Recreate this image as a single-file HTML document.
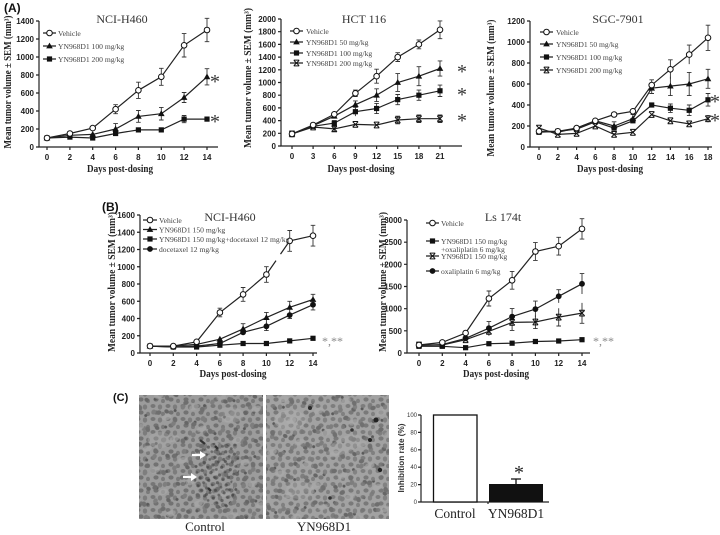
<!DOCTYPE html>
<html><head><meta charset="utf-8"><style>
html,body{margin:0;padding:0;background:#fff;}
svg{display:block;}
.tk{font-family:"Liberation Sans",sans-serif;font-weight:bold;font-size:8px;fill:#222;}
.ax{font-family:"Liberation Serif",serif;font-weight:bold;font-size:10px;fill:#222;}
.tt{font-family:"Liberation Serif",serif;font-size:12px;fill:#333;}
.lg{font-family:"Liberation Serif",serif;font-size:7.6px;fill:#444;}
.st{font-family:"Liberation Serif",serif;font-size:20px;fill:#333;}
.st2{font-family:"Liberation Serif",serif;font-size:12px;fill:#888;}
.pl{font-family:"Liberation Sans",sans-serif;font-weight:bold;font-size:12px;fill:#111;}
.ln{stroke:#222;stroke-width:1.2;fill:none;}
.eb{stroke:#333;stroke-width:0.9;fill:none;}
</style></head><body>
<svg width="720" height="535" viewBox="0 0 720 535" xmlns="http://www.w3.org/2000/svg">
<defs>
<circle id="oc" r="2.8" fill="#fff" stroke="#111" stroke-width="1"/>
<path id="tri" d="M0,-3.4 L3.3,2.4 L-3.3,2.4Z" fill="#111"/>
<rect id="sq" x="-2.6" y="-2.6" width="5.2" height="5.2" fill="#111"/>
<path id="xm" d="M-2.7,-2.7L2.7,2.7M2.7,-2.7L-2.7,2.7M-2.7,-2.9H2.7M-2.7,2.9H2.7" stroke="#111" stroke-width="1" fill="none"/>
<circle id="fc" r="2.9" fill="#111"/>
<pattern id="cellsA" width="15" height="13" patternUnits="userSpaceOnUse">
<ellipse cx="3" cy="3" rx="2.5" ry="2" fill="#767676"/>
<ellipse cx="10" cy="4" rx="2.2" ry="2.6" fill="#7c7c7c"/>
<ellipse cx="6" cy="9.5" rx="2.6" ry="2.1" fill="#727272"/>
<ellipse cx="13" cy="11" rx="2" ry="2.3" fill="#7a7a7a"/>
</pattern>
<pattern id="cellsB" width="23" height="19" patternUnits="userSpaceOnUse" patternTransform="rotate(30)">
<ellipse cx="5" cy="7" rx="2.4" ry="2" fill="#666"/>
<ellipse cx="17" cy="14" rx="2.2" ry="2.6" fill="#7e7e7e"/>
<circle cx="12" cy="2" r="1.5" fill="#5a5a5a"/>
</pattern>
<pattern id="cellsC" width="29" height="23" patternUnits="userSpaceOnUse" patternTransform="rotate(-20)">
<ellipse cx="8" cy="5" rx="2.8" ry="2.2" fill="#6e6e6e"/>
<ellipse cx="21" cy="17" rx="2.3" ry="2.8" fill="#707070"/>
<ellipse cx="14" cy="12" rx="5" ry="3" fill="#aaa" opacity="0.6"/>
</pattern>
<pattern id="dark" width="9" height="8" patternUnits="userSpaceOnUse" patternTransform="rotate(15)">
<circle cx="2" cy="2" r="1.6" fill="#333"/>
<circle cx="6.5" cy="5.5" r="1.4" fill="#3a3a3a"/>
</pattern>
</defs>

<!-- ============ PANEL A1 ============ -->
<text class="pl" x="4" y="12">(A)</text>
<text class="tt" x="122" y="23" text-anchor="middle">NCI-H460</text>
<path class="ln" d="M39,21V147H218"/>
<path class="ln" d="M36,147H39M36,129H39M36,111H39M36,93H39M36,75H39M36,57H39M36,39H39M36,21H39"/>
<g class="tk" text-anchor="end">
<text x="34" y="150">0</text><text x="34" y="132">200</text><text x="34" y="114">400</text><text x="34" y="96">600</text><text x="34" y="78">800</text><text x="34" y="60">1000</text><text x="34" y="42">1200</text><text x="34" y="24">1400</text>
</g>
<path class="ln" d="M47,147v3M69.9,147v3M92.7,147v3M115.6,147v3M138.4,147v3M161.3,147v3M184.1,147v3M207,147v3"/>
<g class="tk" text-anchor="middle">
<text x="47" y="160">0</text><text x="69.9" y="160">2</text><text x="92.7" y="160">4</text><text x="115.6" y="160">6</text><text x="138.4" y="160">8</text><text x="161.3" y="160">10</text><text x="184.1" y="160">12</text><text x="207" y="160">14</text>
</g>
<text class="ax" x="120" y="172" text-anchor="middle" textLength="66" lengthAdjust="spacingAndGlyphs">Days post-dosing</text>
<text class="ax" transform="translate(11,82) rotate(-90)" text-anchor="middle" textLength="133" lengthAdjust="spacingAndGlyphs">Mean tumor volume ± SEM (mm³)</text>
<path class="eb" d="M115.6,104.7V113.7M113.3,104.7H117.9M113.3,113.7H117.9M138.4,82.2V98.4M136.1,82.2H140.7M136.1,98.4H140.7M161.3,68.3V85.3M159,68.3H163.6M159,85.3H163.6M184.1,33.6V57M181.8,33.6H186.4M181.8,57H186.4M207,18.3V41.7M204.7,18.3H209.3M204.7,41.7H209.3"/>
<path class="eb" d="M115.6,123.6V134.4M113.3,123.6H117.9M138.4,110.5V122.3M136.1,110.5H140.7M136.1,122.3H140.7M161.3,107.4V120M159,107.4H163.6M159,120H163.6M184.1,92.5V102.5M181.8,92.5H186.4M181.8,102.5H186.4M207,68.7V84.9M204.7,68.7H209.3M204.7,84.9H209.3M184.1,115.5V122.7M181.8,115.5H186.4M181.8,122.7H186.4"/>
<polyline class="ln" points="47,138 69.9,137.1 92.7,138 115.6,133.5 138.4,129.9 161.3,129.9 184.1,119.1 207,119.1"/>
<polyline class="ln" points="47,138 69.9,135.3 92.7,134.4 115.6,129 138.4,116.4 161.3,113.7 184.1,97.5 207,76.8"/>
<polyline class="ln" points="47,138 69.9,133.5 92.7,128.1 115.6,109.2 138.4,90.3 161.3,76.8 184.1,45.3 207,30"/>
<use href="#sq" x="47" y="138"/><use href="#sq" x="69.9" y="137.1"/><use href="#sq" x="92.7" y="138"/><use href="#sq" x="115.6" y="133.5"/><use href="#sq" x="138.4" y="129.9"/><use href="#sq" x="161.3" y="129.9"/><use href="#sq" x="184.1" y="119.1"/><use href="#sq" x="207" y="119.1"/>
<use href="#tri" x="47" y="138"/><use href="#tri" x="69.9" y="135.3"/><use href="#tri" x="92.7" y="134.4"/><use href="#tri" x="115.6" y="129"/><use href="#tri" x="138.4" y="116.4"/><use href="#tri" x="161.3" y="113.7"/><use href="#tri" x="184.1" y="97.5"/><use href="#tri" x="207" y="76.8"/>
<use href="#oc" x="47" y="138"/><use href="#oc" x="69.9" y="133.5"/><use href="#oc" x="92.7" y="128.1"/><use href="#oc" x="115.6" y="109.2"/><use href="#oc" x="138.4" y="90.3"/><use href="#oc" x="161.3" y="76.8"/><use href="#oc" x="184.1" y="45.3"/><use href="#oc" x="207" y="30"/>
<text class="st" x="215" y="88" text-anchor="middle">*</text>
<text class="st" x="215" y="128" text-anchor="middle">*</text>
<path class="ln" d="M43,33H56M43,46H56M43,59H56"/>
<use href="#oc" x="49.5" y="33"/><use href="#tri" x="49.5" y="46"/><use href="#sq" x="49.5" y="59"/>
<text class="lg" x="58" y="36">Vehicle</text>
<text class="lg" x="58" y="49">YN968D1 100 mg/kg</text>
<text class="lg" x="58" y="62">YN968D1 200 mg/kg</text>

<!-- ============ PANEL A2 ============ -->
<text class="tt" x="364" y="23" text-anchor="middle">HCT 116</text>
<path class="ln" d="M281,19V146H462"/>
<path class="ln" d="M278,146H281M278,133.3H281M278,120.6H281M278,107.9H281M278,95.2H281M278,82.5H281M278,69.8H281M278,57.1H281M278,44.4H281M278,31.7H281M278,19H281"/>
<g class="tk" text-anchor="end">
<text x="276" y="149">0</text><text x="276" y="136.3">200</text><text x="276" y="123.6">400</text><text x="276" y="110.9">600</text><text x="276" y="98.2">800</text><text x="276" y="85.5">1000</text><text x="276" y="72.8">1200</text><text x="276" y="60.1">1400</text><text x="276" y="47.4">1600</text><text x="276" y="34.7">1800</text><text x="276" y="22">2000</text>
</g>
<path class="ln" d="M292,146v3M313.1,146v3M334.3,146v3M355.4,146v3M376.6,146v3M397.7,146v3M418.9,146v3M440,146v3"/>
<g class="tk" text-anchor="middle">
<text x="292" y="159">0</text><text x="313.1" y="159">3</text><text x="334.3" y="159">6</text><text x="355.4" y="159">9</text><text x="376.6" y="159">12</text><text x="397.7" y="159">15</text><text x="418.9" y="159">18</text><text x="440" y="159">21</text>
</g>
<text class="ax" x="361" y="172" text-anchor="middle" textLength="67" lengthAdjust="spacingAndGlyphs">Days post-dosing</text>
<text class="ax" transform="translate(251,78) rotate(-90)" text-anchor="middle" textLength="140" lengthAdjust="spacingAndGlyphs">Mean tumor volume ± SEM (mm³)</text>
<path class="eb" d="M292,132V135.8M289.7,132H294.3M289.7,135.8H294.3M355.4,90.1V96.5M353.1,90.1H357.7M353.1,96.5H357.7M376.6,69.2V83.2M374.3,69.2H378.9M374.3,83.2H378.9M397.7,52.7V61.5M395.4,52.7H400M395.4,61.5H400M418.9,40V48.8M416.6,40H421.2M416.6,48.8H421.2M440,20.9V38.7M437.7,20.9H442.3M437.7,38.7H442.3"/>
<path class="eb" d="M355.4,100.9V108.5M353.1,100.9H357.7M376.6,88.8V101.6M374.3,88.8H378.9M374.3,101.6H378.9M397.7,73.6V91.4M395.4,73.6H400M395.4,91.4H400M418.9,66.7V85.7M416.6,66.7H421.2M416.6,85.7H421.2M440,60.9V76.1M437.7,60.9H442.3M437.7,76.1H442.3"/>
<path class="eb" d="M334.3,120.6V125.6M332,120.6H336.6M355.4,107.3V116.1M353.1,107.3H357.7M376.6,103.4V113.6M374.3,103.4H378.9M374.3,113.6H378.9M397.7,94.5V104.7M395.4,94.5H400M395.4,104.7H400M418.9,90.1V100.3M416.6,90.1H421.2M416.6,100.3H421.2M440,85.1V96.5M437.7,85.1H442.3M437.7,96.5H442.3"/>
<path class="eb" d="M334.3,126.4V131.4M332,126.4H336.6M332,131.4H336.6M397.7,116.2V123.8M395.4,116.2H400M395.4,123.8H400M418.9,114.9V122.5M416.6,114.9H421.2M416.6,122.5H421.2M440,114.9V122.5M437.7,114.9H442.3M437.7,122.5H442.3"/>
<polyline class="ln" points="292,133.9 313.1,127 334.3,128.9 355.4,124.4 376.6,125 397.7,120 418.9,118.7 440,118.7"/>
<polyline class="ln" points="292,133.9 313.1,126.3 334.3,123.1 355.4,111.7 376.6,108.5 397.7,99.6 418.9,95.2 440,90.8"/>
<polyline class="ln" points="292,133.9 313.1,125.7 334.3,116.2 355.4,104.7 376.6,95.2 397.7,82.5 418.9,76.2 440,68.5"/>
<polyline class="ln" points="292,133.9 313.1,125 334.3,114.3 355.4,93.3 376.6,76.2 397.7,57.1 418.9,44.4 440,29.8"/>
<use href="#xm" x="292" y="133.9"/><use href="#xm" x="313.1" y="127"/><use href="#xm" x="334.3" y="128.9"/><use href="#xm" x="355.4" y="124.4"/><use href="#xm" x="376.6" y="125"/><use href="#xm" x="397.7" y="120"/><use href="#xm" x="418.9" y="118.7"/><use href="#xm" x="440" y="118.7"/>
<use href="#sq" x="292" y="133.9"/><use href="#sq" x="313.1" y="126.3"/><use href="#sq" x="334.3" y="123.1"/><use href="#sq" x="355.4" y="111.7"/><use href="#sq" x="376.6" y="108.5"/><use href="#sq" x="397.7" y="99.6"/><use href="#sq" x="418.9" y="95.2"/><use href="#sq" x="440" y="90.8"/>
<use href="#tri" x="292" y="133.9"/><use href="#tri" x="313.1" y="125.7"/><use href="#tri" x="334.3" y="116.2"/><use href="#tri" x="355.4" y="104.7"/><use href="#tri" x="376.6" y="95.2"/><use href="#tri" x="397.7" y="82.5"/><use href="#tri" x="418.9" y="76.2"/><use href="#tri" x="440" y="68.5"/>
<use href="#oc" x="292" y="133.9"/><use href="#oc" x="313.1" y="125"/><use href="#oc" x="334.3" y="114.3"/><use href="#oc" x="355.4" y="93.3"/><use href="#oc" x="376.6" y="76.2"/><use href="#oc" x="397.7" y="57.1"/><use href="#oc" x="418.9" y="44.4"/><use href="#oc" x="440" y="29.8"/>
<text class="st" x="462" y="78" text-anchor="middle">*</text>
<text class="st" x="462" y="101" text-anchor="middle">*</text>
<text class="st" x="462" y="127" text-anchor="middle">*</text>
<path class="ln" d="M290,31H303M290,42H303M290,53H303M290,63H303"/>
<use href="#oc" x="296.5" y="31"/><use href="#tri" x="296.5" y="42"/><use href="#sq" x="296.5" y="53"/><use href="#xm" x="296.5" y="63"/>
<text class="lg" x="306" y="34">Vehicle</text>
<text class="lg" x="306" y="45">YN968D1  50 mg/kg</text>
<text class="lg" x="306" y="56">YN968D1  100 mg/kg</text>
<text class="lg" x="306" y="66">YN968D1  200 mg/kg</text>

<!-- ============ PANEL A3 ============ -->
<text class="tt" x="618" y="23" text-anchor="middle">SGC-7901</text>
<path class="ln" d="M530,21V147H712"/>
<path class="ln" d="M527,147H530M527,126H530M527,105H530M527,84H530M527,63H530M527,42H530M527,21H530"/>
<g class="tk" text-anchor="end">
<text x="525" y="150">0</text><text x="525" y="129">200</text><text x="525" y="108">400</text><text x="525" y="87">600</text><text x="525" y="66">800</text><text x="525" y="45">1000</text><text x="525" y="24">1200</text>
</g>
<path class="ln" d="M539,147v3M557.8,147v3M576.6,147v3M595.3,147v3M614.1,147v3M632.9,147v3M651.7,147v3M670.4,147v3M689.2,147v3M708,147v3"/>
<g class="tk" text-anchor="middle">
<text x="539" y="160">0</text><text x="557.8" y="160">2</text><text x="576.6" y="160">4</text><text x="595.3" y="160">6</text><text x="614.1" y="160">8</text><text x="632.9" y="160">10</text><text x="651.7" y="160">12</text><text x="670.4" y="160">14</text><text x="689.2" y="160">16</text><text x="708" y="160">18</text>
</g>
<text class="ax" x="610" y="172" text-anchor="middle" textLength="66" lengthAdjust="spacingAndGlyphs">Days post-dosing</text>
<text class="ax" transform="translate(494,88) rotate(-90)" text-anchor="middle" textLength="137" lengthAdjust="spacingAndGlyphs">Mean tumor volume ± SEM (mm³)</text>
<path class="eb" d="M614.1,112V117M632.9,108V114.6M651.7,79.8V90.4M649.4,79.8H654M670.4,59.8V78.8M668.1,59.8H672.7M689.2,45.1V64.1M686.9,45.1H691.5M708,25.2V50.4M705.7,25.2H710.3M705.7,50.4H710.3"/>
<path class="eb" d="M614.1,121.8V130.2M611.8,121.8H616.4M632.9,114.5V122.9M630.6,114.5H635.2M651.7,82.9V93.5M649.4,93.5H654M670.4,76.6V95.6M668.1,95.6H672.7M689.2,72.4V95.6M686.9,72.4H691.5M686.9,95.6H691.5M708,69.3V88.3M705.7,69.3H710.3M705.7,88.3H710.3"/>
<path class="eb" d="M670.4,104V112.4M668.1,104H672.7M668.1,112.4H672.7M689.2,105V115.6M686.9,105H691.5M686.9,115.6H691.5M708,93.5V106.1M705.7,93.5H710.3M705.7,106.1H710.3M708,115V122.4"/>
<polyline class="ln" points="539,128.1 557.8,134.4 576.6,133.4 595.3,126 614.1,134.4 632.9,132.3 651.7,114.5 670.4,120.8 689.2,123.9 708,118.7"/>
<polyline class="ln" points="539,132.3 557.8,131.3 576.6,129.2 595.3,121.8 614.1,128.1 632.9,120.8 651.7,105 670.4,108.2 689.2,110.3 708,99.8"/>
<polyline class="ln" points="539,131.3 557.8,132.3 576.6,128.1 595.3,120.8 614.1,126 632.9,118.7 651.7,88.2 670.4,86.1 689.2,84 708,78.8"/>
<polyline class="ln" points="539,131.3 557.8,131.3 576.6,128.1 595.3,120.8 614.1,114.5 632.9,111.3 651.7,85.1 670.4,69.3 689.2,54.6 708,37.8"/>
<use href="#xm" x="539" y="128.1"/><use href="#xm" x="557.8" y="134.4"/><use href="#xm" x="576.6" y="133.4"/><use href="#xm" x="595.3" y="126"/><use href="#xm" x="614.1" y="134.4"/><use href="#xm" x="632.9" y="132.3"/><use href="#xm" x="651.7" y="114.5"/><use href="#xm" x="670.4" y="120.8"/><use href="#xm" x="689.2" y="123.9"/><use href="#xm" x="708" y="118.7"/>
<use href="#sq" x="539" y="132.3"/><use href="#sq" x="557.8" y="131.3"/><use href="#sq" x="576.6" y="129.2"/><use href="#sq" x="595.3" y="121.8"/><use href="#sq" x="614.1" y="128.1"/><use href="#sq" x="632.9" y="120.8"/><use href="#sq" x="651.7" y="105"/><use href="#sq" x="670.4" y="108.2"/><use href="#sq" x="689.2" y="110.3"/><use href="#sq" x="708" y="99.8"/>
<use href="#tri" x="539" y="131.3"/><use href="#tri" x="557.8" y="132.3"/><use href="#tri" x="576.6" y="128.1"/><use href="#tri" x="595.3" y="120.8"/><use href="#tri" x="614.1" y="126"/><use href="#tri" x="632.9" y="118.7"/><use href="#tri" x="651.7" y="88.2"/><use href="#tri" x="670.4" y="86.1"/><use href="#tri" x="689.2" y="84"/><use href="#tri" x="708" y="78.8"/>
<use href="#oc" x="539" y="131.3"/><use href="#oc" x="557.8" y="131.3"/><use href="#oc" x="576.6" y="128.1"/><use href="#oc" x="595.3" y="120.8"/><use href="#oc" x="614.1" y="114.5"/><use href="#oc" x="632.9" y="111.3"/><use href="#oc" x="651.7" y="85.1"/><use href="#oc" x="670.4" y="69.3"/><use href="#oc" x="689.2" y="54.6"/><use href="#oc" x="708" y="37.8"/>
<text class="st" x="715" y="108" text-anchor="middle">*</text>
<text class="st" x="715" y="127" text-anchor="middle">*</text>
<path class="ln" d="M540,32H553M540,44H553M540,57H553M540,70H553"/>
<use href="#oc" x="546.5" y="32"/><use href="#tri" x="546.5" y="44"/><use href="#sq" x="546.5" y="57"/><use href="#xm" x="546.5" y="70"/>
<text class="lg" x="556" y="35">Vehicle</text>
<text class="lg" x="556" y="47">YN968D1  50 mg/kg</text>
<text class="lg" x="556" y="60">YN968D1  100 mg/kg</text>
<text class="lg" x="556" y="73">YN968D1  200 mg/kg</text>

<!-- ============ PANEL B1 ============ -->
<text class="pl" x="102" y="211">(B)</text>
<text class="tt" x="230" y="221" text-anchor="middle">NCI-H460</text>
<path class="ln" d="M140,215V353H317"/>
<path class="ln" d="M137,353H140M137,335.75H140M137,318.5H140M137,301.25H140M137,284H140M137,266.75H140M137,249.5H140M137,232.25H140M137,215H140"/>
<g class="tk" text-anchor="end">
<text x="135" y="356">0</text><text x="135" y="338.75">200</text><text x="135" y="321.5">400</text><text x="135" y="304.25">600</text><text x="135" y="287">800</text><text x="135" y="269.75">1000</text><text x="135" y="252.5">1200</text><text x="135" y="235.25">1400</text><text x="135" y="218">1600</text>
</g>
<path class="ln" d="M150,353v3M173.3,353v3M196.6,353v3M219.9,353v3M243.1,353v3M266.4,353v3M289.7,353v3M313,353v3"/>
<g class="tk" text-anchor="middle">
<text x="150" y="366">0</text><text x="173.3" y="366">2</text><text x="196.6" y="366">4</text><text x="219.9" y="366">6</text><text x="243.1" y="366">8</text><text x="266.4" y="366">10</text><text x="289.7" y="366">12</text><text x="313" y="366">14</text>
</g>
<text class="ax" x="233" y="377" text-anchor="middle" textLength="67" lengthAdjust="spacingAndGlyphs">Days post-dosing</text>
<text class="ax" transform="translate(115,282) rotate(-90)" text-anchor="middle" textLength="140" lengthAdjust="spacingAndGlyphs">Mean tumor volume ± SEM (mm³)</text>
<path class="eb" d="M219.9,308.2V316.8M217.6,308.2H222.2M217.6,316.8H222.2M243.1,287.5V301.3M240.8,287.5H245.4M240.8,301.3H245.4M266.4,266.7V282.3M264.1,266.7H268.7M264.1,282.3H268.7M289.7,230.5V251.3M287.4,230.5H292M287.4,251.3H292M313,225.3V246.1M310.7,225.3H315.3M310.7,246.1H315.3"/>
<path class="eb" d="M219.9,336.6V341.8M243.1,323.7V334.1M240.8,323.7H245.4M266.4,312.4V322.8M264.1,312.4H268.7M289.7,301.3V313.3M287.4,301.3H292M313,294.3V304.7M310.7,294.3H315.3"/>
<path class="eb" d="M266.4,322V330.6M264.1,330.6H268.7M289.7,311.6V318.6M287.4,318.6H292M313,299.5V309.9M310.7,309.9H315.3"/>
<polyline class="ln" points="150,346.1 173.3,347 196.6,347 219.9,345.2 243.1,343.5 266.4,343.5 289.7,340.9 313,338.3"/>
<polyline class="ln" points="150,346.1 173.3,347 196.6,346.1 219.9,343.5 243.1,332.3 266.4,326.3 289.7,315.1 313,304.7"/>
<polyline class="ln" points="150,346.1 173.3,346.1 196.6,344.4 219.9,339.2 243.1,328.9 266.4,317.6 289.7,307.3 313,299.5"/>
<polyline class="ln" points="150,346.1 173.3,346.1 196.6,341.8 219.9,312.5 243.1,294.4 266.4,274.5 276,260.6"/>
<polyline class="ln" points="280.5,254.1 289.7,240.9 313,235.7"/>
<use href="#sq" x="150" y="346.1"/><use href="#sq" x="173.3" y="347"/><use href="#sq" x="196.6" y="347"/><use href="#sq" x="219.9" y="345.2"/><use href="#sq" x="243.1" y="343.5"/><use href="#sq" x="266.4" y="343.5"/><use href="#sq" x="289.7" y="340.9"/><use href="#sq" x="313" y="338.3"/>
<use href="#fc" x="150" y="346.1"/><use href="#fc" x="173.3" y="347"/><use href="#fc" x="196.6" y="346.1"/><use href="#fc" x="219.9" y="343.5"/><use href="#fc" x="243.1" y="332.3"/><use href="#fc" x="266.4" y="326.3"/><use href="#fc" x="289.7" y="315.1"/><use href="#fc" x="313" y="304.7"/>
<use href="#tri" x="150" y="346.1"/><use href="#tri" x="173.3" y="346.1"/><use href="#tri" x="196.6" y="344.4"/><use href="#tri" x="219.9" y="339.2"/><use href="#tri" x="243.1" y="328.9"/><use href="#tri" x="266.4" y="317.6"/><use href="#tri" x="289.7" y="307.3"/><use href="#tri" x="313" y="299.5"/>
<use href="#oc" x="150" y="346.1"/><use href="#oc" x="173.3" y="346.1"/><use href="#oc" x="196.6" y="341.8"/><use href="#oc" x="219.9" y="312.5"/><use href="#oc" x="243.1" y="294.4"/><use href="#oc" x="266.4" y="274.5"/><use href="#oc" x="289.7" y="240.9"/><use href="#oc" x="313" y="235.7"/>
<text class="st2" x="322" y="345">*,**</text>
<path class="ln" d="M143,220H157M143,229.5H157M143,239H157M143,249H157"/>
<use href="#oc" x="150" y="220"/><use href="#tri" x="150" y="229.5"/><use href="#sq" x="150" y="239"/><use href="#fc" x="150" y="249"/>
<text class="lg" x="159" y="223">Vehicle</text>
<text class="lg" x="159" y="232.5">YN968D1 150 mg/kg</text>
<text class="lg" x="159" y="242">YN968D1 150 mg/kg+docetaxel 12 mg/kg</text>
<text class="lg" x="159" y="252">docetaxel 12 mg/kg</text>

<!-- ============ PANEL B2 ============ -->
<text class="tt" x="503" y="221" text-anchor="middle">Ls 174t</text>
<path class="ln" d="M407,220V353H590"/>
<path class="ln" d="M404,353H407M404,330.8H407M404,308.7H407M404,286.5H407M404,264.3H407M404,242.2H407M404,220H407"/>
<g class="tk" text-anchor="end">
<text x="402" y="356">0</text><text x="402" y="333.8">500</text><text x="402" y="311.7">1000</text><text x="402" y="289.5">1500</text><text x="402" y="267.3">2000</text><text x="402" y="245.2">2500</text><text x="402" y="223">3000</text>
</g>
<path class="ln" d="M419,353v3M442.3,353v3M465.6,353v3M488.9,353v3M512.1,353v3M535.4,353v3M558.7,353v3M582,353v3"/>
<g class="tk" text-anchor="middle">
<text x="419" y="366">0</text><text x="442.3" y="366">2</text><text x="465.6" y="366">4</text><text x="488.9" y="366">6</text><text x="512.1" y="366">8</text><text x="535.4" y="366">10</text><text x="558.7" y="366">12</text><text x="582" y="366">14</text>
</g>
<text class="ax" x="496" y="377" text-anchor="middle" textLength="66" lengthAdjust="spacingAndGlyphs">Days post-dosing</text>
<text class="ax" transform="translate(386,282) rotate(-90)" text-anchor="middle" textLength="140" lengthAdjust="spacingAndGlyphs">Mean tumor volume ± SEM (mm³)</text>
<path class="eb" d="M488.9,291V306M486.6,291H491.2M486.6,306H491.2M512.1,271.4V289.2M509.8,271.4H514.4M509.8,289.2H514.4M535.4,242.6V260.4M533.1,242.6H537.7M533.1,260.4H537.7M558.7,237.3V255.1M556.4,237.3H561M556.4,255.1H561M582,218.7V239.1M579.7,218.7H584.3M579.7,239.1H584.3"/>
<path class="eb" d="M488.9,326.9V335.7M512.1,314.4V330.4M509.8,330.4H514.4M535.4,315.4V328.6M533.1,328.6H537.7M558.7,308.2V326M556.4,326H561M582,302.9V323.3M579.7,323.3H584.3"/>
<path class="eb" d="M488.9,321.6V334.8M486.6,321.6H491.2M512.1,308.6V324.6M509.8,308.6H514.4M535.4,301.1V317.1M533.1,301.1H537.7M558.7,289.7V302.9M556.4,289.7H561M582,273.6V294M579.7,273.6H584.3"/>
<polyline class="ln" points="419,346.3 442.3,346.3 465.6,347.7 488.9,343.7 512.1,343.2 535.4,341.5 558.7,341 582,339.7"/>
<polyline class="ln" points="419,345 442.3,345 465.6,339.7 488.9,331.3 512.1,322.4 535.4,322 558.7,317.1 582,313.1"/>
<polyline class="ln" points="419,345.5 442.3,344.6 465.6,338.4 488.9,328.2 512.1,316.6 535.4,309.1 558.7,296.3 582,283.8"/>
<polyline class="ln" points="419,345 442.3,342.4 465.6,333 488.9,298.5 512.1,280.3 535.4,251.5 558.7,246.2 582,228.9"/>
<use href="#sq" x="419" y="346.3"/><use href="#sq" x="442.3" y="346.3"/><use href="#sq" x="465.6" y="347.7"/><use href="#sq" x="488.9" y="343.7"/><use href="#sq" x="512.1" y="343.2"/><use href="#sq" x="535.4" y="341.5"/><use href="#sq" x="558.7" y="341"/><use href="#sq" x="582" y="339.7"/>
<use href="#xm" x="419" y="345"/><use href="#xm" x="442.3" y="345"/><use href="#xm" x="465.6" y="339.7"/><use href="#xm" x="488.9" y="331.3"/><use href="#xm" x="512.1" y="322.4"/><use href="#xm" x="535.4" y="322"/><use href="#xm" x="558.7" y="317.1"/><use href="#xm" x="582" y="313.1"/>
<use href="#fc" x="419" y="345.5"/><use href="#fc" x="442.3" y="344.6"/><use href="#fc" x="465.6" y="338.4"/><use href="#fc" x="488.9" y="328.2"/><use href="#fc" x="512.1" y="316.6"/><use href="#fc" x="535.4" y="309.1"/><use href="#fc" x="558.7" y="296.3"/><use href="#fc" x="582" y="283.8"/>
<use href="#oc" x="419" y="345"/><use href="#oc" x="442.3" y="342.4"/><use href="#oc" x="465.6" y="333"/><use href="#oc" x="488.9" y="298.5"/><use href="#oc" x="512.1" y="280.3"/><use href="#oc" x="535.4" y="251.5"/><use href="#oc" x="558.7" y="246.2"/><use href="#oc" x="582" y="228.9"/>
<text class="st2" x="593" y="345">*,**</text>
<path class="ln" d="M426,223H439M426,241H439M426,256H439M426,271H439"/>
<use href="#oc" x="432.5" y="223"/><use href="#sq" x="432.5" y="241"/><use href="#xm" x="432.5" y="256"/><use href="#fc" x="432.5" y="271"/>
<text class="lg" x="441" y="226">Vehicle</text>
<text class="lg" x="441" y="244">YN968D1 150 mg/kg</text>
<text class="lg" x="441" y="252">+oxaliplatin 6 mg/kg</text>
<text class="lg" x="441" y="259">YN968D1 150 mg/kg</text>
<text class="lg" x="441" y="274">oxaliplatin 6 mg/kg</text>

<!-- ============ PANEL C ============ -->
<text class="pl" x="113" y="401" style="font-size:11px">(C)</text>
<!-- image 1 -->
<rect x="139" y="395" width="124" height="124" fill="#9c9c9c"/>
<rect x="139" y="395" width="124" height="124" fill="url(#cellsA)"/>
<rect x="139" y="395" width="124" height="124" fill="url(#cellsB)"/>
<rect x="139" y="395" width="124" height="124" fill="url(#cellsC)"/>
<ellipse cx="160" cy="440" rx="12" ry="8" fill="#b0b0b0" opacity="0.35"/>
<ellipse cx="230" cy="415" rx="14" ry="8" fill="#b0b0b0" opacity="0.3"/>
<path d="M205,445 Q225,438 238,452 Q245,470 232,482 Q240,500 222,508 Q205,505 198,490 Q188,478 200,466 Q196,452 205,445Z" fill="url(#dark)" opacity="0.55"/>
<path d="M200,440 L205,444 M215,446 L218,449 M208,488 L211,491" stroke="#333" stroke-width="2.4"/>
<path d="M192,455H202" stroke="#fff" stroke-width="2.2"/>
<path d="M200,451L206,455L200,459Z" fill="#fff"/>
<path d="M183,477H193" stroke="#fff" stroke-width="2.2"/>
<path d="M191,473L197,477L191,481Z" fill="#fff"/>
<!-- image 2 -->
<rect x="266" y="395" width="123" height="124" fill="#a2a2a2"/>
<rect x="266" y="395" width="123" height="124" fill="url(#cellsB)"/>
<rect x="266" y="395" width="123" height="124" fill="url(#cellsA)" opacity="0.85"/>
<rect x="266" y="395" width="123" height="124" fill="url(#cellsC)"/>
<ellipse cx="290" cy="420" rx="16" ry="10" fill="#b8b8b8" opacity="0.35"/>
<ellipse cx="345" cy="445" rx="18" ry="8" fill="#b4b4b4" opacity="0.3" transform="rotate(-25 345 445)"/>
<ellipse cx="300" cy="490" rx="14" ry="9" fill="#b4b4b4" opacity="0.3"/>
<circle cx="376" cy="420" r="2.5" fill="#222"/><circle cx="370" cy="440" r="2" fill="#222"/><circle cx="310" cy="408" r="2" fill="#2a2a2a"/><circle cx="380" cy="470" r="2.2" fill="#222"/><circle cx="352" cy="430" r="1.8" fill="#333"/><circle cx="330" cy="498" r="1.8" fill="#333"/>
<text class="tt" x="205" y="531" text-anchor="middle" style="font-size:13px;fill:#222">Control</text>
<text class="tt" x="324" y="531" text-anchor="middle" style="font-size:13px;fill:#222">YN968D1</text>

<!-- bar chart -->
<path class="ln" d="M421,415V502H549M418,415H421M418,432.4H421M418,449.8H421M418,467.2H421M418,484.6H421M418,502H421M488,502v2"/>
<g style="font-family:'Liberation Sans',sans-serif;font-size:6px;fill:#333" text-anchor="end">
<text x="417" y="417">100</text><text x="417" y="434.4">80</text><text x="417" y="451.8">60</text><text x="417" y="469.2">40</text><text x="417" y="486.6">20</text><text x="417" y="504">0</text>
</g>
<text transform="translate(404,458) rotate(-90)" text-anchor="middle" style="font-family:'Liberation Sans',sans-serif;font-weight:bold;font-size:8px;fill:#333" textLength="69" lengthAdjust="spacingAndGlyphs">Inhibition rate (%)</text>
<rect x="433.5" y="415" width="43.5" height="87" fill="#fff" stroke="#111" stroke-width="1.3"/>
<rect x="489" y="484" width="54" height="18" fill="#111"/>
<path d="M516,484V479M511,479H521" stroke="#111" stroke-width="1.3" fill="none"/>
<text x="519" y="479" text-anchor="middle" style="font-family:'Liberation Serif',serif;font-size:20px;fill:#222">*</text>
<text x="455" y="518" text-anchor="middle" style="font-family:'Liberation Serif',serif;font-size:13.5px;fill:#222">Control</text>
<text x="516" y="518" text-anchor="middle" style="font-family:'Liberation Serif',serif;font-size:13.5px;fill:#222">YN968D1</text>
</svg>
</body></html>
